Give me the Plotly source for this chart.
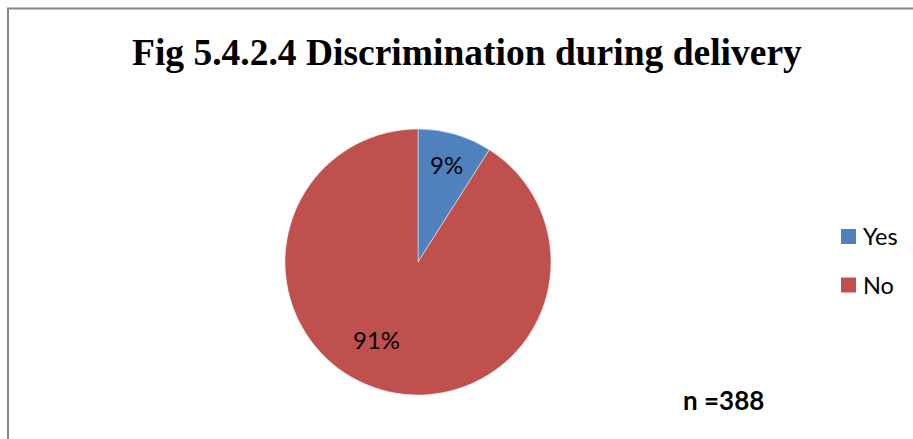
import math
import plotly.graph_objects as go

# Survey responses: discrimination experienced during delivery
labels = ["Yes", "No"]
values = [35, 353]
sample_size = 388
colors = ["#4F81BD", "#C0504D"]
title_text = "Fig 5.4.2.4 Discrimination during delivery"

W, H = 913, 439
cx, cy, R = 418, 262, 133  # pie centre and radius in pixels (from top-left)

fig = go.Figure()
fig.add_trace(go.Pie(
    labels=labels,
    values=values,
    sort=False,
    direction="clockwise",
    rotation=0,
    marker=dict(colors=colors, line=dict(color="white", width=0.5)),
    textinfo="none",
    hoverinfo="label+percent",
    showlegend=False,
    domain=dict(x=[(cx - R) / W, (cx + R) / W],
                y=[(H - cy - R) / H, (H - cy + R) / H]),
))

annotations = []
shapes = []

# Percentage labels placed inside each slice along its mid-angle
total = sum(values)
label_radius = [0.76, 0.66]
label_shift = [0.0, 12.0]  # degrees
start = 0.0
for i, v in enumerate(values):
    frac = v / total
    mid = (start + frac / 2) * 360 + label_shift[i]
    start += frac
    a = math.radians(mid)
    px = cx + label_radius[i] * R * math.sin(a)
    py = cy - label_radius[i] * R * math.cos(a)
    annotations.append(dict(
        x=px / W, y=1 - py / H, xref="paper", yref="paper",
        text=f"{round(frac * 100)}%", showarrow=False,
        font=dict(family="Lato", size=24, color="#000000"),
        xanchor="center", yanchor="middle",
    ))

# Title
annotations.append(dict(
    x=467 / W, y=1 - 52 / H, xref="paper", yref="paper",
    text=f"<b>{title_text}</b>", showarrow=False,
    font=dict(family="Liberation Serif", size=37.5, color="#000000"),
    xanchor="center", yanchor="middle",
))

# Legend drawn as swatches + labels
for i, lab in enumerate(labels):
    ly = 236.5 + i * 48.5
    shapes.append(dict(
        type="rect", xref="paper", yref="paper",
        x0=841 / W, x1=856 / W, y0=1 - (ly + 7.5) / H, y1=1 - (ly - 7.5) / H,
        fillcolor=colors[i], line=dict(width=0),
    ))
    annotations.append(dict(
        x=861 / W, y=1 - ly / H, xref="paper", yref="paper",
        text=lab, showarrow=False,
        font=dict(family="Lato", size=23.5, color="#000000"),
        xanchor="left", yanchor="middle",
    ))

# Sample size note
annotations.append(dict(
    x=681 / W, y=1 - 400 / H, xref="paper", yref="paper",
    text=f"<b>n ={sample_size}</b>", showarrow=False,
    font=dict(family="Lato", size=26, color="#000000"),
    xanchor="left", yanchor="middle",
))

# Chart-area border (runs off the right and bottom edges)
shapes.append(dict(
    type="rect", xref="paper", yref="paper",
    x0=8 / W, x1=(W + 10) / W, y0=-10 / H, y1=1 - 8.5 / H,
    line=dict(color="#868686", width=2), fillcolor="rgba(0,0,0,0)",
))

fig.update_layout(
    width=W, height=H,
    margin=dict(l=0, r=0, t=0, b=0),
    paper_bgcolor="white", plot_bgcolor="white",
    annotations=annotations, shapes=shapes,
)

fig.write_html("out.html")
